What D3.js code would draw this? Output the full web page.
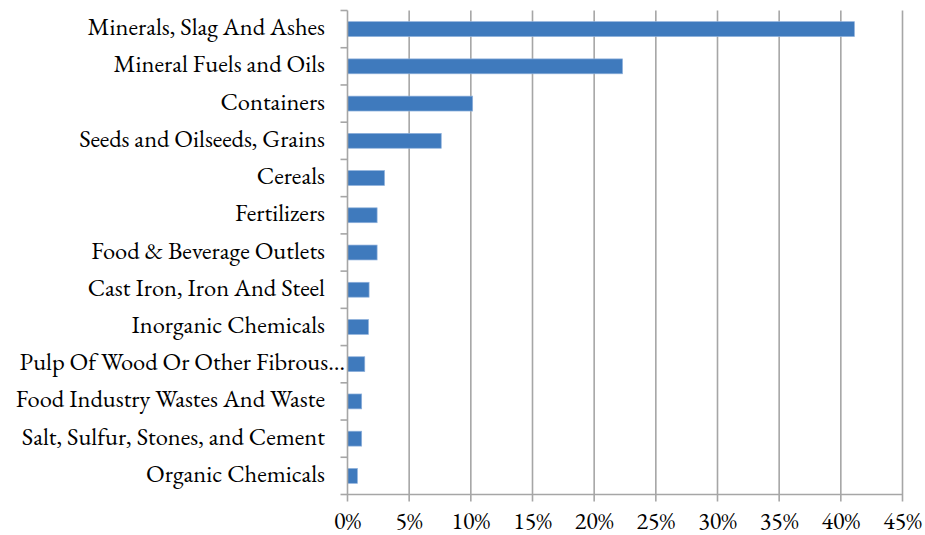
<!DOCTYPE html>
<html><head><meta charset="utf-8">
<script src="https://cdn.jsdelivr.net/npm/d3@7"></script>
<style>body{margin:0;background:#fff}svg{display:block}</style>
</head><body>
<script>
const categories = ["Minerals, Slag And Ashes","Mineral Fuels and Oils","Containers","Seeds and Oilseeds, Grains","Cereals","Fertilizers","Food & Beverage Outlets","Cast Iron, Iron And Steel","Inorganic Chemicals","Pulp Of Wood Or Other Fibrous…","Food Industry Wastes And Waste","Salt, Sulfur, Stones, and Cement","Organic Chemicals"];
const values = [41.1,22.3,10.15,7.6,3.0,2.4,2.4,1.75,1.7,1.4,1.15,1.15,0.8];
const tickValues = [0,5,10,15,20,25,30,35,40,45];

(function(){
const W=925,H=535, pL=347.5, pR=902.5, pT=10.5, pB=494.5;
const FONT='"EB Garamond","Liberation Serif",serif';
const svg=d3.select("body").append("svg").attr("width",W).attr("height",H).style("font-family",FONT);
const x=d3.scaleLinear().domain([0,45]).range([pL,pR]);
const y=d3.scaleBand().domain(categories).range([pT,pB]).paddingInner(0.6).paddingOuter(0.3);

svg.append("g").selectAll("line").data(tickValues.slice(1)).join("line")
  .attr("x1",d=>x(d)).attr("x2",d=>x(d)).attr("y1",pT).attr("y2",pB+7)
  .attr("stroke","#a6a6a6").attr("stroke-width",1.6);

svg.append("g").selectAll("rect").data(values).join("rect")
  .attr("x",x(0)).attr("y",(d,i)=>y(categories[i]))
  .attr("width",d=>x(d)-x(0)).attr("height",y.bandwidth())
  .attr("fill","#3f7abd").attr("stroke","#8fb1dc").attr("stroke-width",0.7);

const step=(pB-pT)/categories.length;
const ya=svg.append("g");
ya.append("line").attr("x1",pL).attr("x2",pL).attr("y1",pT).attr("y2",pB+7).attr("stroke","#a6a6a6").attr("stroke-width",1.6);
ya.selectAll("line.t").data(d3.range(categories.length+1)).join("line").attr("class","t")
  .attr("x1",pL-7).attr("x2",pL).attr("y1",i=>pT+i*step).attr("y2",i=>pT+i*step)
  .attr("stroke","#a6a6a6").attr("stroke-width",1.6);
ya.selectAll("text").data(categories).join("text")
  .attr("x",(d,i)=>i===9?345:325).attr("y",d=>y(d)+y.bandwidth()/2+6)
  .attr("text-anchor","end").attr("font-size",24.5).attr("fill","#000").text(d=>d);

const xa=svg.append("g");
xa.append("line").attr("x1",pL).attr("x2",pR).attr("y1",pB).attr("y2",pB).attr("stroke","#a6a6a6").attr("stroke-width",1.6);
xa.selectAll("text").data(tickValues).join("text")
  .attr("x",d=>x(d)).attr("y",529).attr("text-anchor","middle")
  .attr("font-size",24).attr("fill","#000").text(d=>d+"%");
})();
</script>
</body></html>
